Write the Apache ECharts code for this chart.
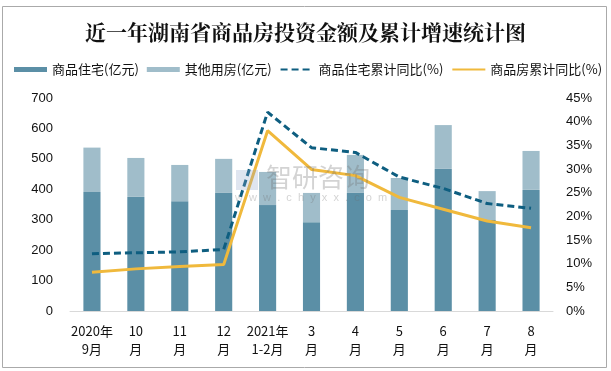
<!DOCTYPE html>
<html><head><meta charset="utf-8">
<script src="https://cdn.jsdelivr.net/npm/echarts@6/dist/echarts.min.js"></script>
<style>html,body{margin:0;padding:0;background:#fff}#c{width:611px;height:371px}</style>
</head><body><div id="c"></div>
<script>
var categories = ['2020年\n9月','10\n月','11\n月','12\n月','2021年\n1-2月','3\n月','4\n月','5\n月','6\n月','7\n月','8\n月'];
var residential = [391, 375, 361, 388, 348, 292, 388, 332, 467, 299, 398];
var other = [146, 128, 119, 112, 109, 96, 125, 105, 144, 95, 128];
var resGrowth = [12.1, 12.3, 12.5, 13.0, 42.0, 34.5, 33.5, 28.3, 25.9, 22.7, 21.7];
var allGrowth = [8.2, 8.9, 9.4, 9.8, 38.1, 29.9, 28.6, 24.0, 21.5, 19.0, 17.6];
var leftTicks = {min: 0, max: 700, interval: 100};
var rightTicks = {min: 0, max: 45, interval: 5};

var FONT = '"Noto Sans CJK SC", "Microsoft YaHei", sans-serif';
var chart = echarts.init(document.getElementById('c'));
chart.setOption({
  animation: false,
  backgroundColor: '#fff',
  title: {
    text: '近一年湖南省商品房投资金额及累计增速统计图',
    left: 'center', top: 17,
    textStyle: {fontFamily: '"Noto Serif CJK SC", "Noto Sans CJK SC", serif', fontSize: 21, fontWeight: 'bold', color: '#111'}
  },
  graphic: [
    {type: 'rect', shape: {x: 2.5, y: 6.5, width: 604, height: 361}, style: {fill: 'none', stroke: '#aaaaaa', lineWidth: 1}, z: -1},
    {type: 'rect', shape: {x: 236, y: 170, width: 22, height: 20}, style: {fill: 'rgba(140,160,200,0.28)'}, z: 100},
    {type: 'text', left: 266, top: 164, style: {text: '智研咨询', fontSize: 26, fontFamily: FONT, fill: 'rgba(110,110,110,0.3)'}, z: 100},
    {type: 'text', left: 235, top: 192, style: {text: 'w  w  w  .  c  h  y  x  x  .  c  o  m', fontSize: 11, fontFamily: 'Liberation Sans, sans-serif', fill: 'rgba(110,110,110,0.3)'}, z: 100}
  ],
  legend: {
    top: 58, left: 9, itemGap: 8, itemWidth: 33, itemHeight: 5,
    textStyle: {fontFamily: FONT, fontSize: 13, color: '#111'},
    data: [
      {name: '商品住宅(亿元)', icon: 'rect'},
      {name: '其他用房(亿元)', icon: 'rect'},
      {name: '商品住宅累计同比(%)', itemStyle: {opacity: 0}},
      {name: '商品房累计同比(%)', itemStyle: {opacity: 0}}
    ]
  },
  grid: {left: 70, right: 58, top: 98, bottom: 60},
  xAxis: {
    type: 'category', data: categories,
    axisLine: {lineStyle: {color: '#d9d9d9', width: 1}},
    axisTick: {show: false},
    axisLabel: {fontFamily: FONT, fontSize: 13, color: '#111', lineHeight: 18, margin: 11, interval: 0}
  },
  yAxis: [
    {type: 'value', min: leftTicks.min, max: leftTicks.max, interval: leftTicks.interval,
     splitLine: {show: false}, axisLine: {show: false}, axisTick: {show: false},
     axisLabel: {fontFamily: 'Liberation Sans, Arial, sans-serif', fontSize: 13, color: '#111', margin: 17}},
    {type: 'value', min: rightTicks.min, max: rightTicks.max, interval: rightTicks.interval,
     splitLine: {show: false}, axisLine: {show: false}, axisTick: {show: false},
     axisLabel: {formatter: '{value}%', fontFamily: 'Liberation Sans, Arial, sans-serif', fontSize: 13, color: '#111', margin: 13}}
  ],
  series: [
    {name: '商品住宅(亿元)', type: 'bar', stack: 'a', data: residential, barWidth: '39%', itemStyle: {color: '#5b8fa6'}},
    {name: '其他用房(亿元)', type: 'bar', stack: 'a', data: other, barWidth: '39%', itemStyle: {color: '#a0bdca'}},
    {name: '商品住宅累计同比(%)', type: 'line', yAxisIndex: 1, data: resGrowth, symbol: 'none',
     lineStyle: {color: '#0e5e80', width: 3, type: [7, 4]}, itemStyle: {color: '#0e5e80'}, z: 5},
    {name: '商品房累计同比(%)', type: 'line', yAxisIndex: 1, data: allGrowth, symbol: 'none',
     lineStyle: {color: '#f0b93c', width: 3}, itemStyle: {color: '#f0b93c'}, z: 4}
  ]
});
</script></body></html>
